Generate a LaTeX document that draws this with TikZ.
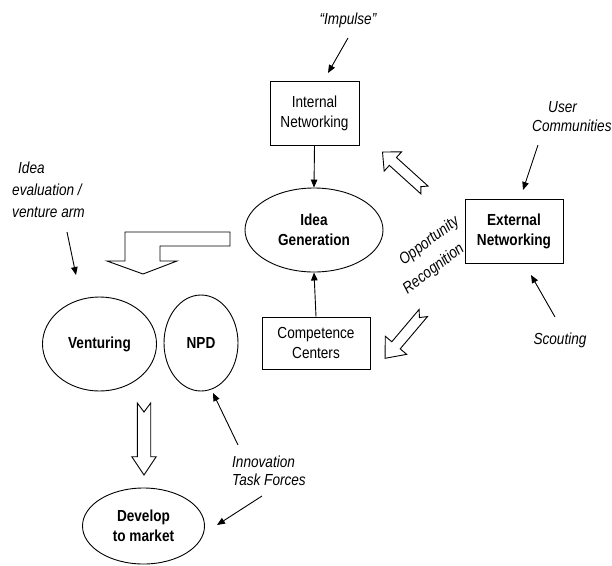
\documentclass[tikz,border=0pt]{standalone}
\usepackage{fontspec}
\setmainfont[FakeStretch=0.85]{Liberation Sans}
\usetikzlibrary{arrows.meta,shapes.geometric}
\newcommand{\blockarr}[8]{%
  \begin{scope}[shift={(#1,#2)}, rotate=#3]
    \draw[blockarrow] (0,#5) -- ({#4-#7},#5) -- ({#4-#7},#6) -- (#4,0) -- ({#4-#7},-#6) -- ({#4-#7},-#5) -- (0,-#5) -- (#8,0) -- cycle;
  \end{scope}}
\begin{document}
\begin{tikzpicture}[x=1pt,y=1pt,
  font=\fontsize{16}{20}\selectfont,
  box/.style={draw, line width=0.9pt, align=center, inner sep=0pt},
  ell/.style={draw, ellipse, line width=0.9pt, align=center, inner sep=0pt, font=\fontsize{16}{20}\selectfont\bfseries},
  lbl/.style={font=\fontsize{16}{19}\selectfont\itshape, inner sep=0pt},
  con/.style={-{Triangle[length=8pt,width=6.5pt]}, line width=0.9pt},
  blockarrow/.style={draw, fill=white, line width=0.9pt, line join=miter}]
\useasboundingbox (0,0) rectangle (612,-565);

% nodes
\node[box, minimum width=89pt, minimum height=64pt] (in) at (314.5,-113) {Internal\\Networking};
\node[ell, minimum width=138pt, minimum height=84pt] (ig) at (314,-230) {Idea\\Generation};
\node[box, minimum width=108pt, minimum height=52pt] (cc) at (316,-343) {Competence\\Centers};
\node[box, minimum width=98pt, minimum height=64pt, font=\fontsize{16}{20}\selectfont\bfseries] (en) at (514,-231) {External\\Networking};
\node[ell, minimum width=114pt, minimum height=94pt] (ven) at (99.5,-344) {Venturing};
\node[ell, minimum width=74pt, minimum height=96pt] (npd) at (201,-343) {NPD};
\node[ell, minimum width=122pt, minimum height=76pt] (dev) at (143.5,-526) {Develop\\to market};

% labels
\node[lbl] (imp) at (348,-20) {“Impulse”};
\node[lbl, align=left, anchor=west] (uc) at (532,-117) {\hspace{16pt}User\\Communities};
\node[lbl] (sc) at (560,-340) {Scouting};
\node[lbl, align=left, anchor=west, font=\fontsize{16}{22}\selectfont\itshape] (iev) at (12,-190) {\hspace{6pt}Idea\\evaluation /\\venture arm};
\node[lbl, align=left, anchor=west, font=\fontsize{16}{18}\selectfont\itshape] (itf) at (232,-471) {Innovation\\Task Forces};
\node[lbl, rotate=37, align=left, font=\fontsize{16}{25}\selectfont\itshape] (opp) at (431.3,-255.4) {\hspace{14pt}Opportunity\\Recognition};

% connector end points
\coordinate (impS) at (348,-38);
\coordinate (impE) at (328,-73);
\coordinate (ucS) at (538,-145);
\coordinate (ucE) at (523,-190);
\coordinate (scS) at (555,-317);
\coordinate (scE) at (531,-275);
\coordinate (ievS) at (67,-232);
\coordinate (ievE) at (76,-275);
\coordinate (itfS) at (238,-445);
\coordinate (itfE) at (213,-393);
\coordinate (itf2S) at (262,-496);
\coordinate (itf2E) at (217,-525);

% connectors
\draw[con] (impS) -- (impE);
\draw[con] (in.south) -- (ig.north);
\draw[con] (cc.north) -- (ig.south);
\draw[con] (ucS) -- (ucE);
\draw[con] (scS) -- (scE);
\draw[con] (ievS) -- (ievE);
\draw[con] (itfS) -- (itfE);
\draw[con] (itf2S) -- (itf2E);

% block arrows
\draw[blockarrow] (230,-232) -- (125,-232) -- (125,-261) -- (107,-261) -- (143,-274) -- (177,-261) -- (160,-261) -- (160,-246) -- (230,-246) -- cycle;
\blockarr{424.5}{-190}{137.9}{56.6}{5.3}{13}{14}{5}
\blockarr{423.3}{-313}{229.8}{59.3}{5.5}{14}{17}{6}
\blockarr{144}{-403}{-90}{72}{6.7}{12.2}{18.3}{9}
\end{tikzpicture}
\end{document}
